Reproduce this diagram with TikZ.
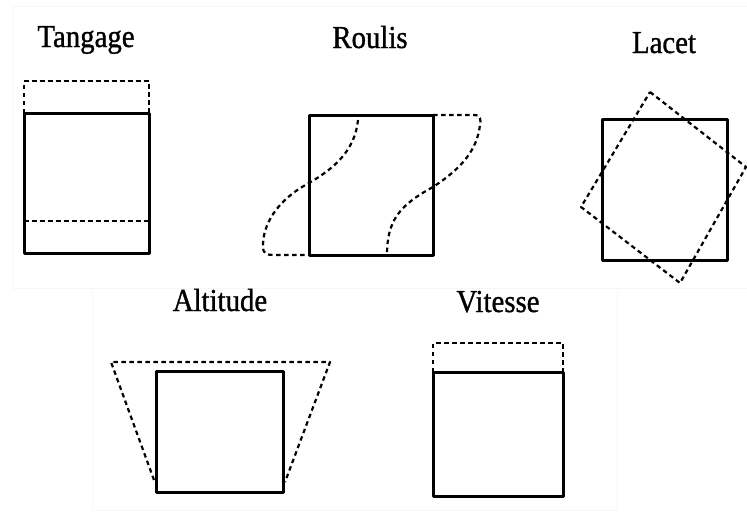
\documentclass[tikz,border=0pt]{standalone}
\usepackage{fontspec}
\newfontfamily\lblfont[FakeStretch=0.9,FakeBold=1]{Liberation Serif}
\usepackage{tikz}

\begin{document}
\begin{tikzpicture}[x=1pt, y=-1pt, line join=round,
	lbl/.style={anchor=base, inner sep=0pt, font=\lblfont\fontsize{32}{34}\selectfont},
	solidbox/.style={line width=3pt},
	dashbox/.style={line width=2.2pt, dash pattern=on 4.5pt off 3.5pt},
	panel/.style={draw=black!3, line width=0.6pt}]
	\useasboundingbox (0,0) rectangle (747,517);
	\draw[panel] (12,6) -- (747,6);
	\draw[panel] (12,6) -- (12,288) -- (747,288);
	\draw[panel] (92,288) -- (92,510) -- (617,510) -- (617,288);
	\node[lbl] (tangage) at (86,47) {Tangage};
	\draw[solidbox] (24,113) rectangle (149,253);
	\draw[dashbox] (24,113) -- (24,81) -- (149,81) -- (149,113);
	\draw[dashbox] (24,221) -- (149,221);
	\node[lbl] (roulis) at (370,48) {Roulis};
	\draw[solidbox] (309,115) rectangle (433,255);
	\draw[dashbox] (358,120) .. controls (355,150) and (335,168) .. (309,183) .. controls (277,200) and (262,225) .. (263,248) .. controls (263,253) and (267,255) .. (273,255) -- (309,255);
	\draw[dashbox] (433,115) -- (474,115) .. controls (481,115) and (481,120) .. (480,125) .. controls (477,150) and (462,168) .. (433,187) .. controls (400,205) and (387,220) .. (387,255);
	\node[lbl] (lacet) at (664,53) {Lacet};
	\draw[solidbox] (602,119) rectangle (727,260);
	\draw[dashbox] (650,92) -- (746,167) -- (680,283) -- (581,207) -- cycle;
	\node[lbl] (altitude) at (220,311) {Altitude};
	\draw[solidbox] (156,371) rectangle (283,492);
	\draw[dashbox] (154,480) -- (111,362) -- (330,362) -- (285,482);
	\node[lbl] (vitesse) at (498,312) {Vitesse};
	\draw[solidbox] (433,372) rectangle (563,496);
	\draw[dashbox] (433,372) -- (433,343) -- (563,343) -- (563,372);
\end{tikzpicture}
\end{document}
